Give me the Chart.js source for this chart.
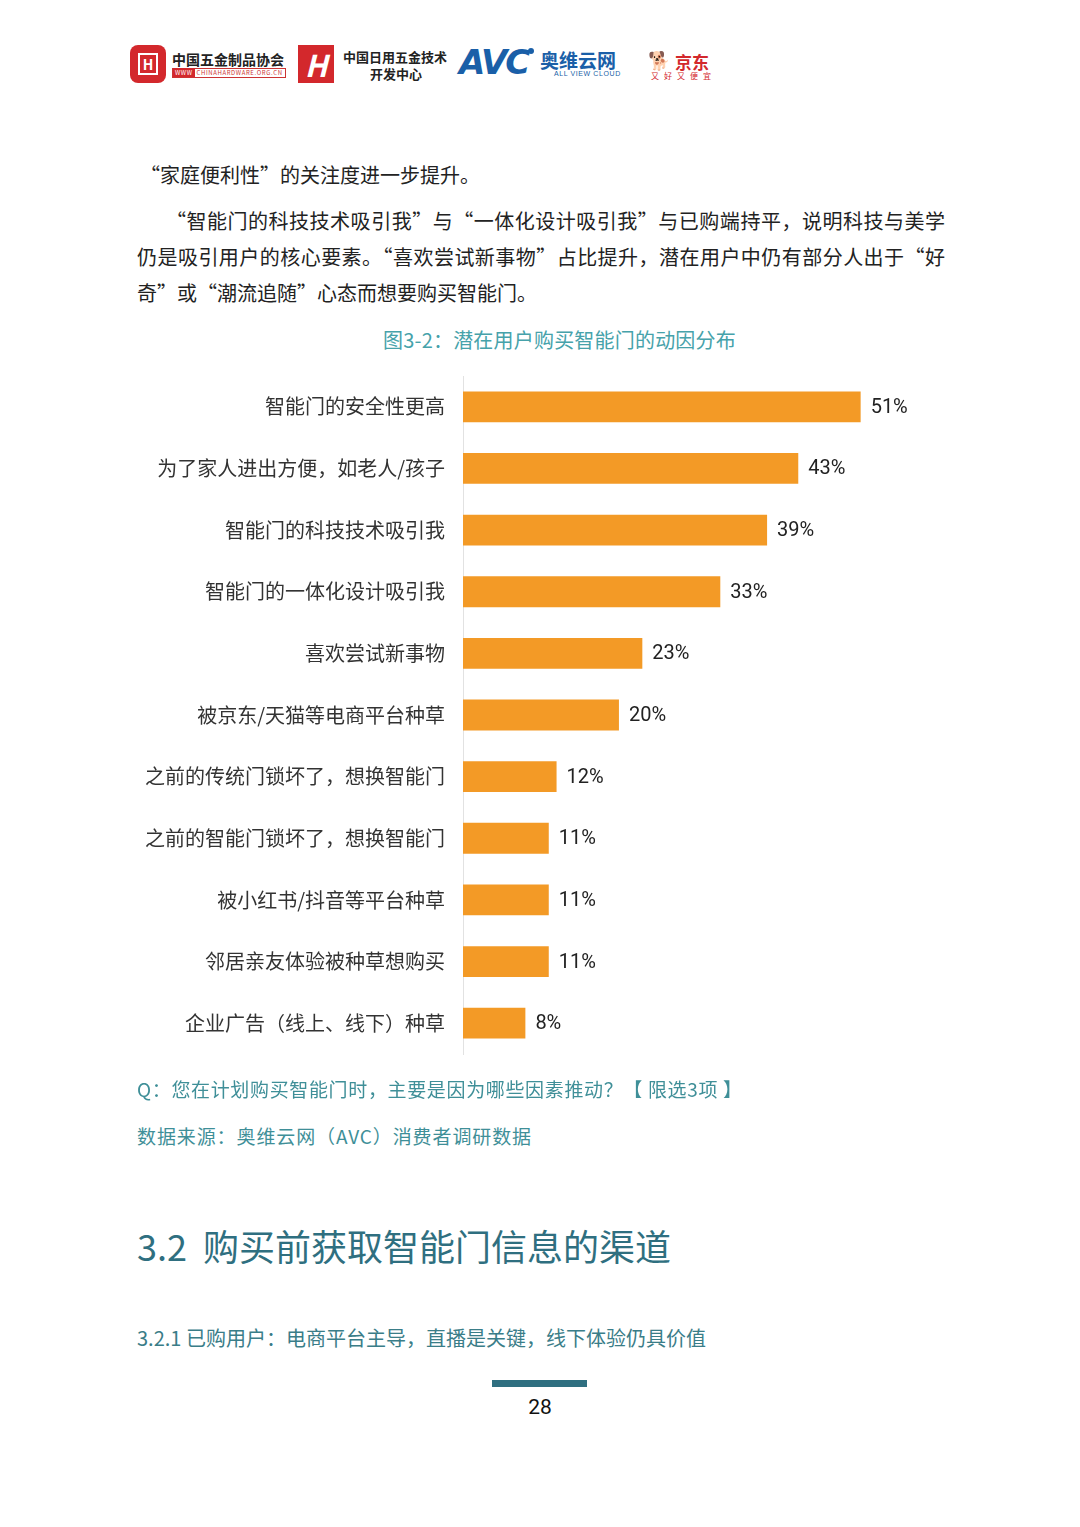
<!DOCTYPE html>
<html><head><meta charset="utf-8">
<script src="https://cdn.jsdelivr.net/npm/chart.js@4/dist/chart.umd.min.js"></script>
<style>
html,body{margin:0;padding:0;background:#fff;}
body{width:1080px;height:1527px;position:relative;overflow:hidden;font-family:"Noto Sans CJK SC","Noto Sans",sans-serif;color:#222;}
.abs{position:absolute;white-space:nowrap;}
.line{position:absolute;white-space:nowrap;font-size:20px;line-height:24px;color:#222;}
.just{text-align:justify;text-align-last:justify;white-space:normal;}
.teal{color:#3f8f98;}
</style></head><body>

<!-- header logos -->
<div class="abs" style="left:130px;top:45px;width:36px;height:38px;background:#d3282c;border-radius:8px;"></div>
<div class="abs" style="left:138px;top:53px;width:20px;height:22px;border:2px solid #fff;box-sizing:border-box;color:#fff;font-size:14px;line-height:18px;text-align:center;font-weight:bold;">H</div>
<div class="abs" style="left:172px;top:49px;font-size:14px;font-weight:bold;color:#222;">中国五金制品协会</div>
<div class="abs" style="left:172px;top:68px;width:112px;height:8px;border:1px solid #c33;font-size:6px;line-height:8px;color:#c33;letter-spacing:0.6px;"><span style="background:#d3282c;color:#fff;padding:0 2px;">WWW</span> CHINAHARDWARE.ORG.CN</div>
<div class="abs" style="left:298px;top:45px;width:36px;height:38px;background:#d3282c;color:#fff;font-size:30px;line-height:38px;text-align:center;font-weight:bold;font-style:italic;">H</div>
<div class="abs" style="left:343px;top:47px;font-size:13px;font-weight:bold;color:#222;">中国日用五金技术</div>
<div class="abs" style="left:370px;top:64px;font-size:13px;font-weight:bold;color:#222;">开发中心</div>
<div class="abs" style="left:459px;top:42px;font-size:34px;font-weight:900;font-style:italic;color:#1a5fa8;font-family:'DejaVu Sans','Liberation Sans',sans-serif;letter-spacing:-2px;">AVC</div>
<div class="abs" style="left:528px;top:48px;width:6px;height:6px;border-radius:50%;background:#1a5fa8;"></div>
<div class="abs" style="left:540px;top:46px;font-size:19px;font-weight:bold;color:#1a5fa8;">奥维云网</div>
<div class="abs" style="left:554px;top:70px;font-size:7px;color:#1a5fa8;letter-spacing:0.6px;font-family:'Liberation Sans',sans-serif;">ALL VIEW CLOUD</div>
<div class="abs" style="left:648px;top:46px;font-size:18px;color:#999;">🐕</div>
<div class="abs" style="left:675px;top:49px;font-size:17px;font-weight:bold;color:#d3282c;">京东</div>
<div class="abs" style="left:651px;top:70px;font-size:8px;color:#d3282c;letter-spacing:5px;">又好又便宜</div>

<!-- body text -->
<div class="line" style="left:140px;top:163px;">“家庭便利性”的关注度进一步提升。</div>
<div class="line just" style="left:166px;top:209px;width:779px;">“智能门的科技技术吸引我”与“一体化设计吸引我”与已购端持平，说明科技与美学</div>
<div class="line just" style="left:137px;top:245px;width:808px;">仍是吸引用户的核心要素。“喜欢尝试新事物”占比提升，潜在用户中仍有部分人出于“好</div>
<div class="line" style="left:137px;top:281px;">奇”或“潮流追随”心态而想要购买智能门。</div>

<div class="abs" style="left:383px;top:328px;font-size:20px;line-height:24px;color:#46a2aa;letter-spacing:0.2px;">图3-2：潜在用户购买智能门的动因分布</div>

<div class="abs" style="left:130px;top:346px;width:840px;height:738px;"><canvas id="c"></canvas></div>

<div class="abs teal" style="left:137px;top:1077px;font-size:19px;line-height:24px;letter-spacing:0.65px;">Q：您在计划购买智能门时，主要是因为哪些因素推动？【 限选3项 】</div>
<div class="abs teal" style="left:137px;top:1124px;font-size:19px;line-height:24px;letter-spacing:0.9px;">数据来源：奥维云网（AVC）消费者调研数据</div>

<div class="abs" style="left:137px;top:1222px;font-size:36px;line-height:46px;color:#2f6f80;">3.2&nbsp;&nbsp;购买前获取智能门信息的渠道</div>
<div class="abs" style="left:137px;top:1326px;font-size:20px;line-height:24px;color:#3a7d88;">3.2.1 已购用户：电商平台主导，直播是关键，线下体验仍具价值</div>
<div class="abs" style="left:492px;top:1380px;width:95px;height:7px;background:#2f6f80;"></div>
<div class="abs" style="left:510px;top:1394px;width:60px;text-align:center;font-size:21px;line-height:26px;color:#111;font-family:'Liberation Sans Narrow','Roboto',sans-serif;">28</div>

<script>
const categories = ["智能门的安全性更高","为了家人进出方便，如老人/孩子","智能门的科技技术吸引我","智能门的一体化设计吸引我","喜欢尝试新事物","被京东/天猫等电商平台种草","之前的传统门锁坏了，想换智能门","之前的智能门锁坏了，想换智能门","被小红书/抖音等平台种草","邻居亲友体验被种草想购买","企业广告（线上、线下）种草"];
const values = [51,43,39,33,23,20,12,11,11,11,8];
const valueLabels = ["51%","43%","39%","33%","23%","20%","12%","11%","11%","11%","8%"];

const labelPlugin = {
  id:'valueLabels',
  afterDatasetsDraw(chart){
    const ctx = chart.ctx;
    const meta = chart.getDatasetMeta(0);
    ctx.save();
    ctx.font = '20px "Liberation Sans Narrow","Roboto",sans-serif';
    ctx.fillStyle = '#222';
    ctx.textAlign = 'left';
    ctx.textBaseline = 'middle';
    meta.data.forEach((bar,i)=>{
      ctx.fillText(valueLabels[i], bar.x + 10, bar.y + 1);
    });
    ctx.restore();
  }
};

new Chart(document.getElementById('c'), {
  type:'bar',
  data:{labels:categories, datasets:[{data:values, backgroundColor:'#f39a26', borderWidth:0, barPercentage:0.5, categoryPercentage:1}]},
  options:{
    indexAxis:'y',
    responsive:true, maintainAspectRatio:false, animation:false,
    layout:{padding:{top:4,bottom:6,left:0,right:8}},
    plugins:{legend:{display:false}, tooltip:{enabled:false}},
    scales:{
      x:{display:false, min:0, max:64, grid:{display:false}},
      y:{
        afterFit(s){ s.width = 333; },
        grid:{display:false, drawTicks:false},
        border:{display:true, color:'#e2e2e2', width:1},
        ticks:{padding:18, color:'#333', font:{size:20, family:'"Noto Sans CJK SC","Noto Sans",sans-serif'}}
      }
    }
  },
  plugins:[labelPlugin]
});
</script>
</body></html>
